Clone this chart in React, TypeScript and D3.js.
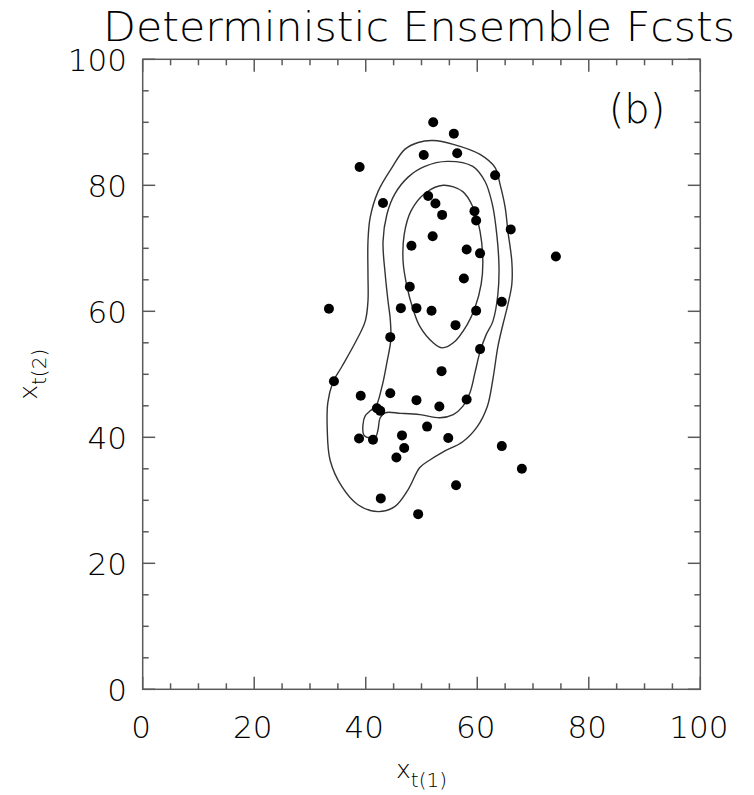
import React, { useEffect, useRef } from "react";
import * as d3 from "d3";

// ensemble member positions (x_t(1), x_t(2))
const memberX = [
  52.1, 55.8, 50.4, 56.4, 38.9, 63.2, 43.1, 51.2, 52.5, 53.7, 59.5, 59.8, 66.0,
  52.0, 48.2, 58.1, 60.5, 74.1, 57.6, 47.9, 33.4, 46.3, 49.1, 51.8, 64.4, 59.8,
  56.1, 44.4, 60.5, 53.6, 34.3, 39.1, 44.4, 49.1, 53.2, 58.1, 42.0, 42.6, 38.8,
  41.3, 46.5, 51.0, 54.8, 46.9, 45.5, 64.4, 68.0, 56.2, 42.7, 49.4,
];
const memberY = [
  90.0, 88.2, 84.8, 85.1, 82.9, 81.6, 77.2, 78.3, 77.1, 75.3, 75.9, 74.4, 73.0,
  71.9, 70.4, 69.8, 69.2, 68.7, 65.2, 63.9, 60.4, 60.5, 60.5, 60.1, 61.5, 60.1,
  57.8, 55.9, 54.0, 50.5, 48.9, 46.6, 47.0, 45.9, 44.9, 46.0, 44.6, 44.2, 39.8,
  39.6, 40.3, 41.7, 39.9, 38.3, 36.8, 38.6, 35.0, 32.4, 30.3, 27.8,
];

// density contours, [x, y] in data units
const contourInner = [
  [53.9, 80.0], [57.4, 79.0], [59.2, 76.6], [60.5, 72.7], [61.0, 67.9],
  [60.7, 64.3], [59.6, 60.6], [58.2, 57.9], [55.7, 55.0], [53.7, 54.2],
  [52.1, 55.0], [49.7, 57.6], [48.5, 60.3], [47.4, 63.9], [46.7, 67.9],
  [46.9, 72.2], [48.1, 75.9], [50.6, 78.7],
];
const contourMiddle = [
  [54.6, 83.8], [59.2, 83.0], [61.4, 80.6], [62.7, 77.0], [63.5, 72.2],
  [63.9, 67.0], [63.7, 62.7], [62.8, 58.4], [61.6, 56.3], [60.5, 53.6],
  [59.6, 50.3], [58.7, 47.1], [57.4, 44.9], [55.7, 43.6], [53.3, 43.1],
  [49.7, 43.6], [46.3, 43.8], [43.5, 43.9], [42.6, 43.1], [42.2, 41.2],
  [41.8, 40.1], [40.8, 39.9], [39.7, 40.3], [39.5, 42.0], [39.9, 43.4],
  [40.8, 44.2], [41.8, 44.9], [42.9, 48.0], [43.8, 51.9], [44.5, 55.5],
  [44.4, 58.7], [44.0, 61.6], [43.5, 65.8], [43.1, 71.1], [43.8, 75.4],
  [45.2, 78.6], [47.6, 81.3], [50.6, 83.0],
];
const contourOuter = [
  [52.1, 87.1], [55.7, 86.5], [60.5, 84.9], [63.2, 82.8], [64.1, 80.1],
  [65.0, 76.5], [65.5, 72.7], [66.2, 67.9], [66.2, 64.3], [65.5, 61.1],
  [64.6, 57.9], [63.7, 54.4], [62.8, 49.2], [61.8, 44.9], [60.0, 41.7],
  [57.4, 39.3], [53.9, 37.7], [51.5, 36.4], [49.7, 35.2], [47.6, 31.7],
  [45.2, 29.0], [42.2, 28.2], [38.6, 29.3], [35.7, 32.2], [33.6, 36.4],
  [33.1, 41.2], [33.2, 45.5], [34.1, 48.7], [35.7, 51.2], [38.1, 55.0],
  [39.9, 58.4], [40.4, 61.6], [40.4, 65.8], [40.4, 71.1], [40.8, 74.9],
  [42.2, 79.0], [44.7, 82.8], [47.0, 85.7], [49.4, 86.8],
];

const tickLabels = ["0", "20", "40", "60", "80", "100"];

export default function App() {
  const svgRef = useRef(null);

  useEffect(() => {
    const svg = d3.select(svgRef.current);
    svg.selectAll("*").remove();

    const left = 142.7, right = 700.3, top = 59.3, bottom = 689.3;
    const x = d3.scaleLinear().domain([0, 100]).range([left, right]);
    const y = d3.scaleLinear().domain([0, 100]).range([bottom, top]);
    const font = "'DejaVu Sans', sans-serif";
    const weight = 200;
    const textColor = "#000";
    const axisColor = "#5a5a5a";

    // frame
    svg
      .append("rect")
      .attr("x", left)
      .attr("y", top)
      .attr("width", right - left)
      .attr("height", bottom - top)
      .style("fill", "none")
      .style("stroke", axisColor)
      .style("stroke-width", 1.5);

    const ticks = x.ticks(20);
    const isMajor = (v) => v % 20 === 0;
    const tlen = (v) => (isMajor(v) ? 12.5 : 6);
    const tk = svg.append("g").style("stroke", axisColor).style("stroke-width", 1.5);
    ticks.forEach((v) => {
      // bottom and top
      tk.append("line").attr("x1", x(v)).attr("x2", x(v)).attr("y1", bottom).attr("y2", bottom - tlen(v));
      tk.append("line").attr("x1", x(v)).attr("x2", x(v)).attr("y1", top).attr("y2", top + tlen(v));
      // left and right
      tk.append("line").attr("y1", y(v)).attr("y2", y(v)).attr("x1", left).attr("x2", left + tlen(v));
      tk.append("line").attr("y1", y(v)).attr("y2", y(v)).attr("x1", right).attr("x2", right - tlen(v));
    });

    // tick labels
    x.ticks(5).forEach((v, i) => {
      svg
        .append("text")
        .attr("x", x(v) - 1.5)
        .attr("y", 738)
        .attr("text-anchor", "middle")
        .style("font-family", font)
        .style("font-weight", weight)
        .style("font-size", "31px")
        .style("fill", textColor)
        .text(tickLabels[i]);
      svg
        .append("text")
        .attr("x", 127)
        .attr("y", y(v) + 12)
        .attr("text-anchor", "end")
        .style("font-family", font)
        .style("font-weight", weight)
        .style("font-size", "31px")
        .style("fill", textColor)
        .text(tickLabels[i]);
    });

    // contours
    const line = d3
      .line()
      .x((d) => x(d[0]))
      .y((d) => y(d[1]))
      .curve(d3.curveCatmullRomClosed.alpha(0.5));
    [contourOuter, contourMiddle, contourInner].forEach((c) => {
      svg
        .append("path")
        .attr("d", line(c))
        .style("fill", "none")
        .style("stroke", "#333")
        .style("stroke-width", 1.4);
    });

    // ensemble members
    svg
      .selectAll(".dot")
      .data(memberX.map((v, i) => [v, memberY[i]]))
      .enter()
      .append("circle")
      .attr("cx", (d) => x(d[0]))
      .attr("cy", (d) => y(d[1]))
      .attr("r", 5)
      .style("fill", "#000");

    // title
    svg
      .append("text")
      .attr("x", 419)
      .attr("y", 41)
      .attr("text-anchor", "middle")
      .attr("textLength", 632)
      .attr("lengthAdjust", "spacingAndGlyphs")
      .style("font-family", font)
      .style("font-weight", weight)
      .style("font-size", "40px")
      .style("fill", textColor)
      .text("Deterministic Ensemble Fcsts");

    // panel label
    svg
      .append("text")
      .attr("x", 637)
      .attr("y", 123)
      .attr("text-anchor", "middle")
      .style("font-family", font)
      .style("font-weight", weight)
      .style("font-size", "40px")
      .style("fill", textColor)
      .text("(b)");

    // x axis label
    const xl = svg
      .append("text")
      .attr("x", (left + right) / 2)
      .attr("y", 778)
      .attr("text-anchor", "middle")
      .style("font-family", font)
      .style("font-weight", weight)
      .style("font-size", "25px")
      .style("fill", textColor);
    xl.append("tspan").text("x");
    xl.append("tspan").attr("dy", 9).style("font-size", "20px").text("t(1)");

    // y axis label
    const yl = svg
      .append("text")
      .attr("transform", `translate(37,${(top + bottom) / 2}) rotate(-90)`)
      .attr("text-anchor", "middle")
      .style("font-family", font)
      .style("font-weight", weight)
      .style("font-size", "25px")
      .style("fill", textColor);
    yl.append("tspan").text("x");
    yl.append("tspan").attr("dy", 9).style("font-size", "20px").text("t(2)");
  }, []);

  return (
    <div style={{ position: "fixed", left: 0, top: 0, background: "#fff" }}>
      <svg ref={svgRef} width={754} height={795} />
    </div>
  );
}
